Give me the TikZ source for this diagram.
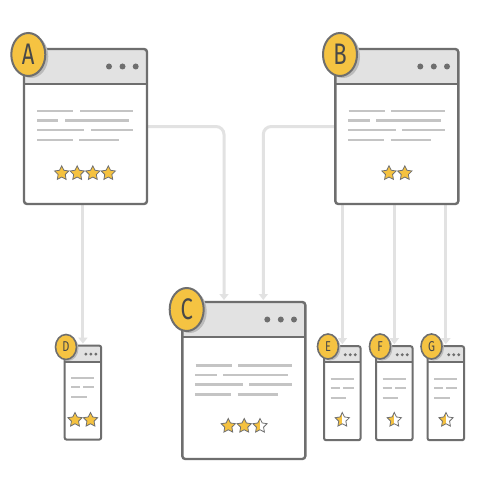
\documentclass[tikz,border=0pt]{standalone}
\usepackage{fontspec}
\setmainfont{Fira Sans}
\usetikzlibrary{shapes.geometric,arrows.meta,shadows,backgrounds}
\definecolor{bord}{HTML}{6E6E6E}
\definecolor{hdr}{HTML}{E2E2E2}
\definecolor{txtl}{HTML}{C4C4C4}
\definecolor{conn}{HTML}{E2E2E2}
\definecolor{sty}{HTML}{F5C240}
\definecolor{badgec}{HTML}{F5C342}
\definecolor{shad}{HTML}{BBBBBB}
\definecolor{lett}{HTML}{484848}
\definecolor{stbord}{HTML}{707070}
\tikzset{
  bigwin/.style={draw=bord, line width=2.4pt, fill=white, rounded corners=3pt,
    minimum width=123pt, minimum height=155pt, inner sep=0pt, outer sep=0pt,
    path picture={\fill[hdr] (path picture bounding box.north west) rectangle ([yshift=-35pt]path picture bounding box.north east);
      \draw[bord,line width=2.4pt] ([yshift=-35pt]path picture bounding box.north west) -- ([yshift=-35pt]path picture bounding box.north east);}},
  smallwin/.style={draw=bord, line width=2pt, fill=white, rounded corners=2pt,
    minimum width=36.5pt, minimum height=94pt, inner sep=0pt, outer sep=0pt,
    path picture={\fill[hdr] (path picture bounding box.north west) rectangle ([yshift=-16pt]path picture bounding box.north east);
      \draw[bord,line width=2pt] ([yshift=-16pt]path picture bounding box.north west) -- ([yshift=-16pt]path picture bounding box.north east);}},
  bigbadge/.style={ellipse, draw=bord, line width=2pt, fill=badgec, minimum width=34pt, minimum height=43pt,
    inner sep=0pt, text=lett, font=\fontsize{22}{22}\selectfont,
    general shadow={shadow xshift=3pt, shadow yshift=-2pt, fill=shad}},
  smallbadge/.style={ellipse, draw=bord, line width=1.6pt, fill=badgec, minimum width=21pt, minimum height=25pt,
    inner sep=0pt, text=lett, font=\fontsize{11}{11}\selectfont,
    general shadow={shadow xshift=2pt, shadow yshift=-1.5pt, fill=shad}},
  tl/.style={txtl, line width=2.4pt},
  dotc/.style={fill=bord},
  st/.style={star, star points=5, star point ratio=2.0, minimum size=15pt, inner sep=0pt,
    draw=stbord, line width=0.8pt, fill=sty},
  hst/.style={st, fill=white, path picture={\fill[sty] (path picture bounding box.south west) rectangle (path picture bounding box.north);}},
  cn/.style={conn, line width=3pt, rounded corners=8pt, -{Triangle[width=9pt,length=6pt]}, shorten >=2pt},
}
\newcommand\biglines[2]{%
  \foreach \ya/\xa/\xb/\xc/\xd in {0/13.3/49.3/56/109.3, 9.5/13/34.3/41/105.3, 19/13/60.3/67/109.3, 29/13/48.7/55.3/95.3}{%
    \draw[tl] ([shift={(\xa,#2+\ya)}]#1.north west) -- ([shift={(\xb,#2+\ya)}]#1.north west);
    \draw[tl] ([shift={(\xc,#2+\ya)}]#1.north west) -- ([shift={(\xd,#2+\ya)}]#1.north west);}%
  \foreach \dx in {-38,-24.5,-11.3}{\fill[dotc] ([shift={(\dx,17.5)}]#1.north east) circle[radius=3pt];}%
}
\newcommand\smalllines[1]{%
  \draw[tl] ([shift={(6.5,32.6)}]#1.north west) -- ([shift={(29.8,32.6)}]#1.north west);
  \draw[tl] ([shift={(6.5,41.6)}]#1.north west) -- ([shift={(15.5,41.6)}]#1.north west);
  \draw[tl] ([shift={(18.8,41.6)}]#1.north west) -- ([shift={(29.5,41.6)}]#1.north west);
  \draw[tl] ([shift={(6.5,51.6)}]#1.north west) -- ([shift={(22.2,51.6)}]#1.north west);
  \foreach \dx in {-15.3,-10.3,-5.3}{\fill[dotc] ([shift={(\dx,8.5)}]#1.north east) circle[radius=1.6pt];}%
}
\begin{document}
\begin{tikzpicture}[x=1pt,y=-1pt]
\begin{scope}[on background layer]
\fill[white] (0,0) rectangle (500,500);
\end{scope}
\path[use as bounding box] (0,0) rectangle (500,500);

% windows
\node[bigwin] (A) at (85.5,126.5) {};
\node[bigwin] (B) at (396.8,126.5) {};
\node[bigwin, minimum height=157pt] (C) at (243.8,380.5) {};
\node[smallwin] (D) at (82.9,392.6) {};
\node[smallwin] (E) at (342.3,393.2) {};
\node[smallwin] (F) at (394.3,393.2) {};
\node[smallwin] (G) at (445.8,393.2) {};

\biglines{A}{62}
\biglines{B}{62}
\biglines{C}{63.5}
\smalllines{D}
\smalllines{E}
\smalllines{F}
\smalllines{G}

% stars
\node[st] (a1) at (61.7,173.3) {};
\node[st] (a2) at (77.2,173.3) {};
\node[st] (a3) at (92.8,173.3) {};
\node[st] (a4) at (108.3,173.3) {};
\node[st] (b1) at (389,173.3) {};
\node[st] (b2) at (404.8,173.3) {};
\node[st] (c1) at (228.3,426) {};
\node[st] (c2) at (244.2,426) {};
\node[hst] (c3) at (260,426) {};
\node[st] (d1) at (75,420) {};
\node[st] (d2) at (90.5,420) {};
\node[hst] (e1) at (342.3,420) {};
\node[hst] (f1) at (394.3,420) {};
\node[hst] (g1) at (446,420) {};

% badges
\node[bigbadge] (la) at (28.3,54.5) {\scalebox{1}[1.35]{A}};
\node[bigbadge] (lb) at (340,54.5) {\scalebox{1}[1.35]{B}};
\node[bigbadge] (lc) at (186.7,309.5) {\scalebox{1}[1.35]{C}};
\node[smallbadge] (ld) at (66,347) {\scalebox{1}[1.3]{D}};
\node[smallbadge] (le) at (328,346.5) {\scalebox{1}[1.3]{E}};
\node[smallbadge] (lf) at (380,346.5) {\scalebox{1}[1.3]{F}};
\node[smallbadge] (lg) at (431.5,346.5) {\scalebox{1}[1.3]{G}};

% connectors
\begin{scope}[on background layer]
\draw[cn] (A.east) -| ([xshift=-19.8pt]C.north);
\draw[cn] (B.west) -| ([xshift=19.5pt]C.north);
\draw[cn] (A.south -| D.north) -- (D.north);
\draw[cn] (B.south -| E.north) -- (E.north);
\draw[cn] (B.south -| F.north) -- (F.north);
\draw[cn] (B.south -| G.north) -- (G.north);
\end{scope}
\end{tikzpicture}
\end{document}
